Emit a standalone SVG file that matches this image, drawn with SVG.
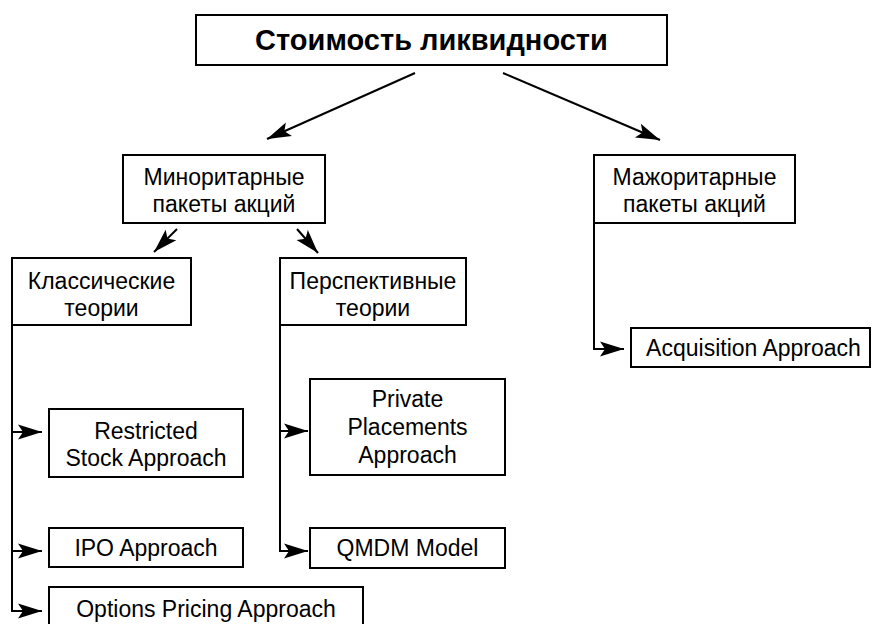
<svg xmlns="http://www.w3.org/2000/svg" width="873" height="624" viewBox="0 0 873 624">
<style>
.box{fill:#fff;stroke:#000;stroke-width:2}
.t{font-family:"Liberation Sans",Arial,sans-serif;font-size:23px;fill:#000;text-anchor:middle}
.title{font-family:"Liberation Sans",Arial,sans-serif;font-size:29px;font-weight:bold;fill:#000;text-anchor:middle}
.c{fill:none;stroke:#000;stroke-width:2}
</style>
<defs>
<marker id="ah" markerUnits="userSpaceOnUse" markerWidth="28" markerHeight="18" viewBox="-26 -9 28 18" refX="0" refY="0" orient="auto">
<path d="M0,0 L-24,-7.5 L-19,0 L-24,7.5 Z" fill="#000"/>
</marker>
</defs>
<rect width="873" height="624" fill="#fff"/>
<g id="connectors">
<line class="c" x1="415" y1="73" x2="267" y2="139" marker-end="url(#ah)"/>
<line class="c" x1="503" y1="73" x2="660" y2="140" marker-end="url(#ah)"/>
<line class="c" x1="177" y1="229" x2="154" y2="252" marker-end="url(#ah)"/>
<line class="c" x1="297" y1="229" x2="318" y2="253" marker-end="url(#ah)"/>
<path class="c" d="M12,325 V611 H42" marker-end="url(#ah)"/>
<path class="c" d="M12,432 H42" marker-end="url(#ah)"/>
<path class="c" d="M12,551 H42" marker-end="url(#ah)"/>
<path class="c" d="M280,325 V551 H308" marker-end="url(#ah)"/>
<path class="c" d="M280,431 H308" marker-end="url(#ah)"/>
<path class="c" d="M594,223 V349 H624" marker-end="url(#ah)"/>
</g>
<g id="root">
<rect class="box" x="196" y="15" width="471" height="50"/>
<text class="title" x="431.5" y="50">Стоимость ликвидности</text>
</g>
<g id="minor">
<rect class="box" x="123" y="155" width="202" height="68"/>
<text class="t" x="224" y="185">Миноритарные</text>
<text class="t" x="224" y="212">пакеты акций</text>
</g>
<g id="major">
<rect class="box" x="594" y="155" width="201" height="68"/>
<text class="t" x="694.5" y="185">Мажоритарные</text>
<text class="t" x="694.5" y="212">пакеты акций</text>
</g>
<g id="classic">
<rect class="box" x="12" y="258" width="179" height="67"/>
<text class="t" x="101.5" y="289">Классические</text>
<text class="t" x="101.5" y="316">теории</text>
</g>
<g id="perspective">
<rect class="box" x="280" y="258" width="186" height="67"/>
<text class="t" x="373" y="289">Перспективные</text>
<text class="t" x="373" y="316">теории</text>
</g>
<g id="restricted">
<rect class="box" x="49" y="409" width="194" height="68"/>
<text class="t" x="146" y="439">Restricted</text>
<text class="t" x="146" y="466">Stock Approach</text>
</g>
<g id="ipo">
<rect class="box" x="49" y="528" width="194" height="39"/>
<text class="t" x="146" y="556">IPO Approach</text>
</g>
<g id="options">
<rect class="box" x="49" y="587" width="314" height="40"/>
<text class="t" x="206" y="617">Options Pricing Approach</text>
</g>
<g id="private">
<rect class="box" x="310" y="379" width="195" height="96"/>
<text class="t" x="407.5" y="407">Private</text>
<text class="t" x="407.5" y="435">Placements</text>
<text class="t" x="407.5" y="463">Approach</text>
</g>
<g id="qmdm">
<rect class="box" x="310" y="528" width="195" height="40"/>
<text class="t" x="407.5" y="556">QMDM Model</text>
</g>
<g id="acquisition">
<rect class="box" x="631" y="328" width="239" height="39"/>
<text class="t" x="753.5" y="356">Acquisition Approach</text>
</g>
</svg>
